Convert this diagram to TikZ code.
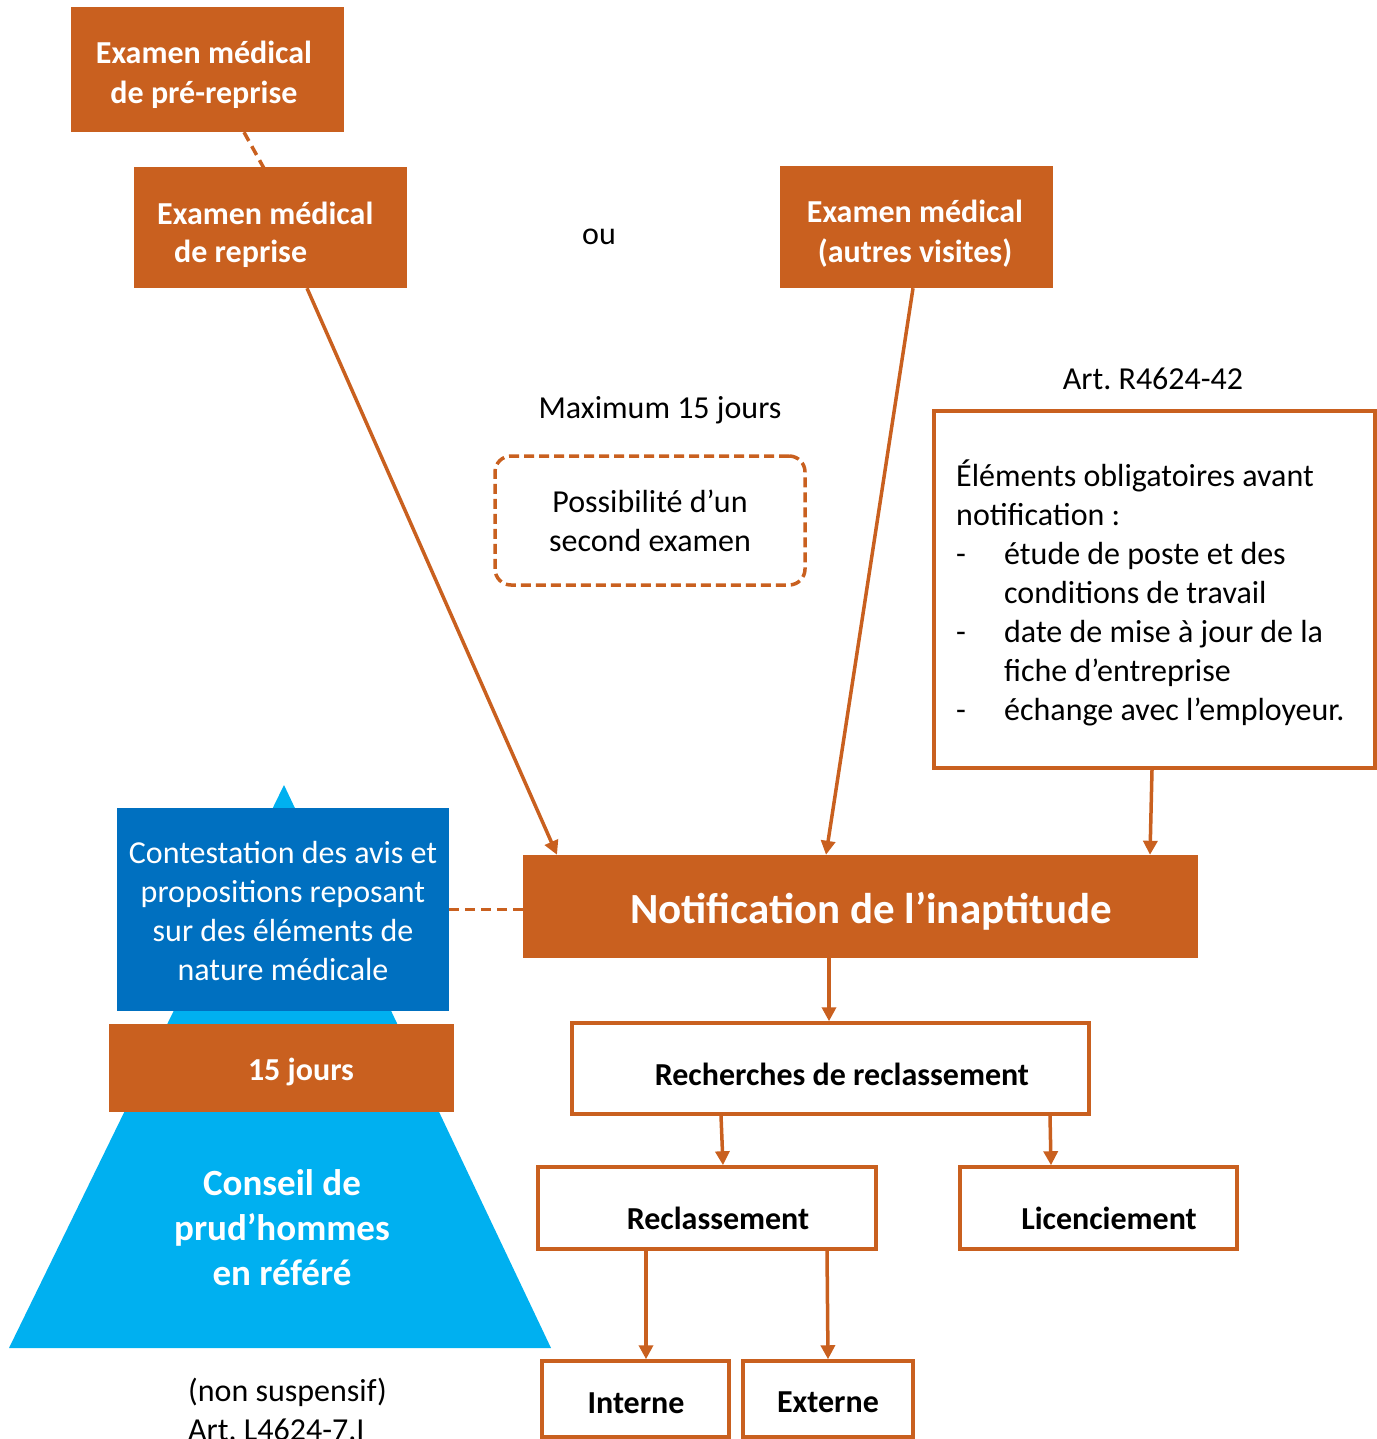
\documentclass[tikz,border=0pt]{standalone}
\usepackage{fontspec}
\setmainfont{Carlito}
\usetikzlibrary{arrows.meta}
\definecolor{orng}{HTML}{C9601F}
\definecolor{dblue}{HTML}{0070C0}
\definecolor{lblue}{HTML}{00B0F0}
\frenchspacing
\tikzset{
  obox/.style={fill=orng, inner sep=0pt},
  otxt/.style={text=white, font=\fontsize{32}{40}\selectfont\bfseries, inner sep=0pt, align=center},
  wbox/.style={draw=orng, line width=3.5pt, fill=white, inner sep=0pt},
  wtxt/.style={text=black, font=\fontsize{32}{40}\selectfont\bfseries, inner sep=0pt, align=center},
  lbl/.style={text=black, font=\fontsize{32}{39}\selectfont, inner sep=0pt, align=center},
  arr/.style={draw=orng, line width=3.5pt, -{Triangle[length=14pt,width=14pt]}},
  dashln/.style={draw=orng, line width=3.5pt, dash pattern=on 10pt off 6pt},
}
\begin{document}
\begin{tikzpicture}[x=1pt,y=-1pt]
\useasboundingbox (0,0) rectangle (1376,1439);

% top boxes
\node[obox, minimum width=273pt, minimum height=125pt] (pre) at (207.5,69.5) {};
\node[otxt] (pret) at (204,75) {Examen médical\\de pré-reprise};
\node[obox, minimum width=273pt, minimum height=121pt] (rep) at (270.5,227.5) {};
\node[otxt, anchor=west] (rep1) at (157,213) {Examen médical};
\node[otxt, anchor=west] (rep2) at (174,254) {de reprise};
\draw[dashln] ([xshift=36.5pt]pre.south) -- ([xshift=1.5pt,yshift=-16pt]rep.north);

\node[lbl] (ou) at (599,237) {ou};
\node[obox, minimum width=273pt, minimum height=122pt] (aut) at (916.5,227) {};
\node[otxt] (autt) at (915,234) {Examen médical\\(autres visites)};

\node[lbl] (max) at (660,410) {Maximum 15 jours};
\node[lbl, draw=orng, line width=3.5pt, dash pattern=on 10pt off 5pt, rounded corners=16pt,
      minimum width=310pt, minimum height=129pt] (sec) at (650,520.5) {Possibilité d’un\\second examen};

\node[lbl] (art) at (1153,379) {Art. R4624-42};
\node[draw=orng, line width=3.5pt, fill=white, minimum width=441pt, minimum height=357pt, inner sep=0pt] (elem) at (1154.5,589.5) {};
\node[text=black, font=\fontsize{32}{39}\selectfont, inner sep=0pt, anchor=west, align=left] (elemt) at (956,593)
 {Éléments obligatoires avant\\notification :\\
  \makebox[48pt][l]{-}étude de poste et des\\
  \hspace*{48pt}conditions de travail\\
  \makebox[48pt][l]{-}date de mise à jour de la\\
  \hspace*{48pt}fiche d’entreprise\\
  \makebox[48pt][l]{-}échange avec l’employeur.};

% notification
\node[obox, minimum width=675pt, minimum height=103pt] (notif) at (860.5,906.5) {};
\node[otxt, font=\fontsize{43}{50}\selectfont\bfseries] (notift) at (871,911) {Notification de l’inaptitude};

\draw[arr] ([xshift=36.5pt]rep.south) -- ([xshift=-303.5pt]notif.north);
\draw[arr] ([xshift=-3.5pt]aut.south) -- ([xshift=-34.5pt]notif.north);
\draw[arr] ([xshift=-2.5pt]elem.south) -- ([xshift=289.5pt]notif.north);

% left pyramid
\fill[lblue] (284,785) -- (551,1348) -- (9,1348) -- cycle;
\node[fill=dblue, minimum width=332pt, minimum height=203pt, inner sep=0pt] (cont) at (283,909.5) {};
\node[text=white, font=\fontsize{32}{39}\selectfont, inner sep=0pt, align=center] (contt) at (283,911)
 {Contestation des avis et\\propositions reposant\\sur des éléments de\\nature médicale};
\draw[dashln] (cont.east) -- (cont.east -| notif.west);
\node[obox, minimum width=345pt, minimum height=88pt] (quinze) at (281.5,1068) {};
\node[otxt] (quinzet) at (301,1072) {15 jours};
\node[text=white, font=\fontsize{37}{45}\selectfont\bfseries, inner sep=0pt, align=center] (cons) at (282,1228) {Conseil de\\prud’hommes\\en référé};
\node[lbl, align=left, anchor=west] (nons) at (188,1409) {(non suspensif)\\Art. L4624-7.I};

% bottom tree
\node[wbox, minimum width=517pt, minimum height=91pt] (rech) at (830.5,1068.5) {};
\node[wtxt] (recht) at (842,1074) {Recherches de reclassement};
\node[wbox, minimum width=338pt, minimum height=82pt] (recl) at (707,1208) {};
\node[wtxt] (reclt) at (718,1218) {Reclassement};
\node[wbox, minimum width=277pt, minimum height=82pt] (lic) at (1098.5,1208) {};
\node[wtxt] (lict) at (1109,1218) {Licenciement};
\node[wbox, minimum width=187pt, minimum height=76pt] (int) at (635.5,1399) {};
\node[wtxt] (intt) at (636,1403) {Interne};
\node[wbox, minimum width=170pt, minimum height=76pt] (ext) at (828,1399) {};
\node[wtxt] (extt) at (828,1402) {Externe};

\draw[arr] ([xshift=-31.5pt]notif.south) -- ([xshift=-1.5pt]rech.north);
\draw[arr] ([xshift=-109.5pt]rech.south) -- ([xshift=16pt]recl.north);
\draw[arr] ([xshift=219.5pt]rech.south) -- ([xshift=-47.5pt]lic.north);
\draw[arr] ([xshift=-61pt]recl.south) -- ([xshift=10.5pt]int.north);
\draw[arr] ([xshift=120pt]recl.south) -- (ext.north);
\end{tikzpicture}
\end{document}
